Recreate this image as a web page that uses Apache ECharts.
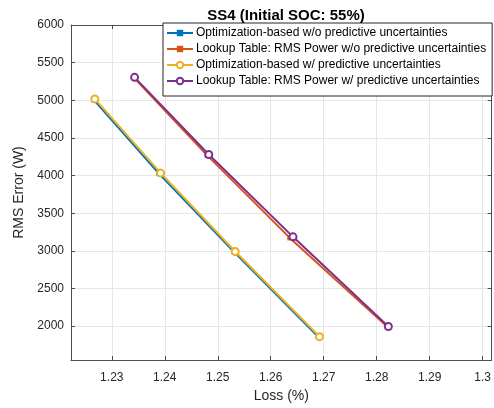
<!DOCTYPE html>
<html><head><meta charset="utf-8">
<script src="https://cdn.jsdelivr.net/npm/echarts@6/dist/echarts.min.js"></script>
<style>html,body{margin:0;padding:0;background:#fff}#c{width:494px;height:408px}</style>
</head><body><div id="c"></div>
<script>
const seriesNames = [
  'Optimization-based w/o predictive uncertainties',
  'Lookup Table: RMS Power w/o predictive uncertainties',
  'Optimization-based w/ predictive uncertainties',
  'Lookup Table: RMS Power w/ predictive uncertainties'
];
const optWoLoss = [1.2266, 1.2389, 1.2531, 1.2690];
const optWoRms  = [5005, 4025, 2985, 1855];
const lutWoLoss = [1.2342, 1.2480, 1.2636, 1.2820];
const lutWoRms  = [5300, 4268, 3172, 1990];
const optWLoss  = [1.2268, 1.2392, 1.2533, 1.2692];
const optWRms   = [5018, 4035, 2992, 1860];
const lutWLoss  = [1.2343, 1.2483, 1.2642, 1.2822];
const lutWRms   = [5305, 4280, 3186, 1995];
const xTicks = [1.23, 1.24, 1.25, 1.26, 1.27, 1.28, 1.29, 1.30];
const yTicks = [2000, 2500, 3000, 3500, 4000, 4500, 5000, 5500, 6000];

const colors = ['#0072BD', '#D95319', '#EDB120', '#7E2F8E'];
const symbols = ['rect', 'rect', 'emptyCircle', 'emptyCircle'];
const lossArr = [optWoLoss, lutWoLoss, optWLoss, lutWLoss];
const rmsArr = [optWoRms, lutWoRms, optWRms, lutWRms];

const font = 'Liberation Sans, Arial, Helvetica, sans-serif';
const axisCol = '#4d4d4d';
const fmtX = v => String(parseFloat(v.toFixed(2)));
const fmtY = v => String(Math.round(v));

const chart = echarts.init(document.getElementById('c'), null, {renderer: 'canvas'});
const series = seriesNames.map((n, i) => ({
  name: n, type: 'line',
  data: lossArr[i].map((x, j) => [x, rmsArr[i][j]]),
  symbol: symbols[i], symbolSize: i < 2 ? 5 : 7,
  showAllSymbol: true,
  lineStyle: {color: colors[i], width: 2},
  itemStyle: {color: colors[i], borderColor: colors[i], borderWidth: i < 2 ? 0 : 1.5},
  animation: false, z: 2 + i
}));

chart.setOption({
  animation: false,
  title: {text: 'SS4 (Initial SOC: 55%)', left: 281, textAlign: 'center', top: 3,
    textStyle: {fontFamily: font, fontSize: 15, fontWeight: 'bold', color: '#000'}},
  grid: {left: 71, right: 2, top: 25, bottom: 45, containLabel: false},
  legend: {
    orient: 'vertical', left: 163, top: 23, data: seriesNames,
    backgroundColor: '#fff', borderColor: '#262626', borderWidth: 1,
    padding: [3, 6, 8, 3], itemGap: 2, itemWidth: 26, itemHeight: 8,
    textStyle: {fontFamily: font, fontSize: 12, lineHeight: 14, color: '#000', padding: [0, 0, 0, -2]}
  },
  xAxis: [{
    type: 'value', min: 1.2223, max: 1.3017,
    name: 'Loss (%)', nameLocation: 'middle', nameGap: 29,
    nameTextStyle: {fontFamily: font, fontSize: 14, color: '#262626'},
    axisLine: {show: true, onZero: false, lineStyle: {color: axisCol}},
    axisTick: {show: true, inside: true, length: 4, customValues: xTicks, lineStyle: {color: axisCol}},
    axisLabel: {customValues: xTicks, formatter: fmtX, fontFamily: font, fontSize: 12, color: '#262626', margin: 12},
    splitLine: {show: true, lineStyle: {color: '#e6e6e6'}}
  }, {
    type: 'value', min: 1.2223, max: 1.3017, position: 'top',
    axisLine: {show: true, onZero: false, lineStyle: {color: axisCol}},
    axisTick: {show: true, inside: true, length: 4, customValues: xTicks, lineStyle: {color: axisCol}},
    axisLabel: {show: false}, splitLine: {show: false}
  }],
  yAxis: [{
    type: 'value', min: 1550, max: 6000,
    name: 'RMS Error (W)', nameLocation: 'middle', nameGap: 39, nameRotate: 90,
    nameTextStyle: {fontFamily: font, fontSize: 14, color: '#262626'},
    axisLine: {show: true, onZero: false, lineStyle: {color: axisCol}},
    axisTick: {show: true, inside: true, length: 4, customValues: yTicks, lineStyle: {color: axisCol}},
    axisLabel: {customValues: yTicks, formatter: fmtY, fontFamily: font, fontSize: 12, color: '#262626', margin: 7},
    splitLine: {show: true, lineStyle: {color: '#e6e6e6'}}
  }, {
    type: 'value', min: 1550, max: 6000, position: 'right',
    axisLine: {show: true, onZero: false, lineStyle: {color: axisCol}},
    axisTick: {show: true, inside: true, length: 4, customValues: yTicks, lineStyle: {color: axisCol}},
    axisLabel: {show: false}, splitLine: {show: false}
  }],
  series: series
});
</script></body></html>
